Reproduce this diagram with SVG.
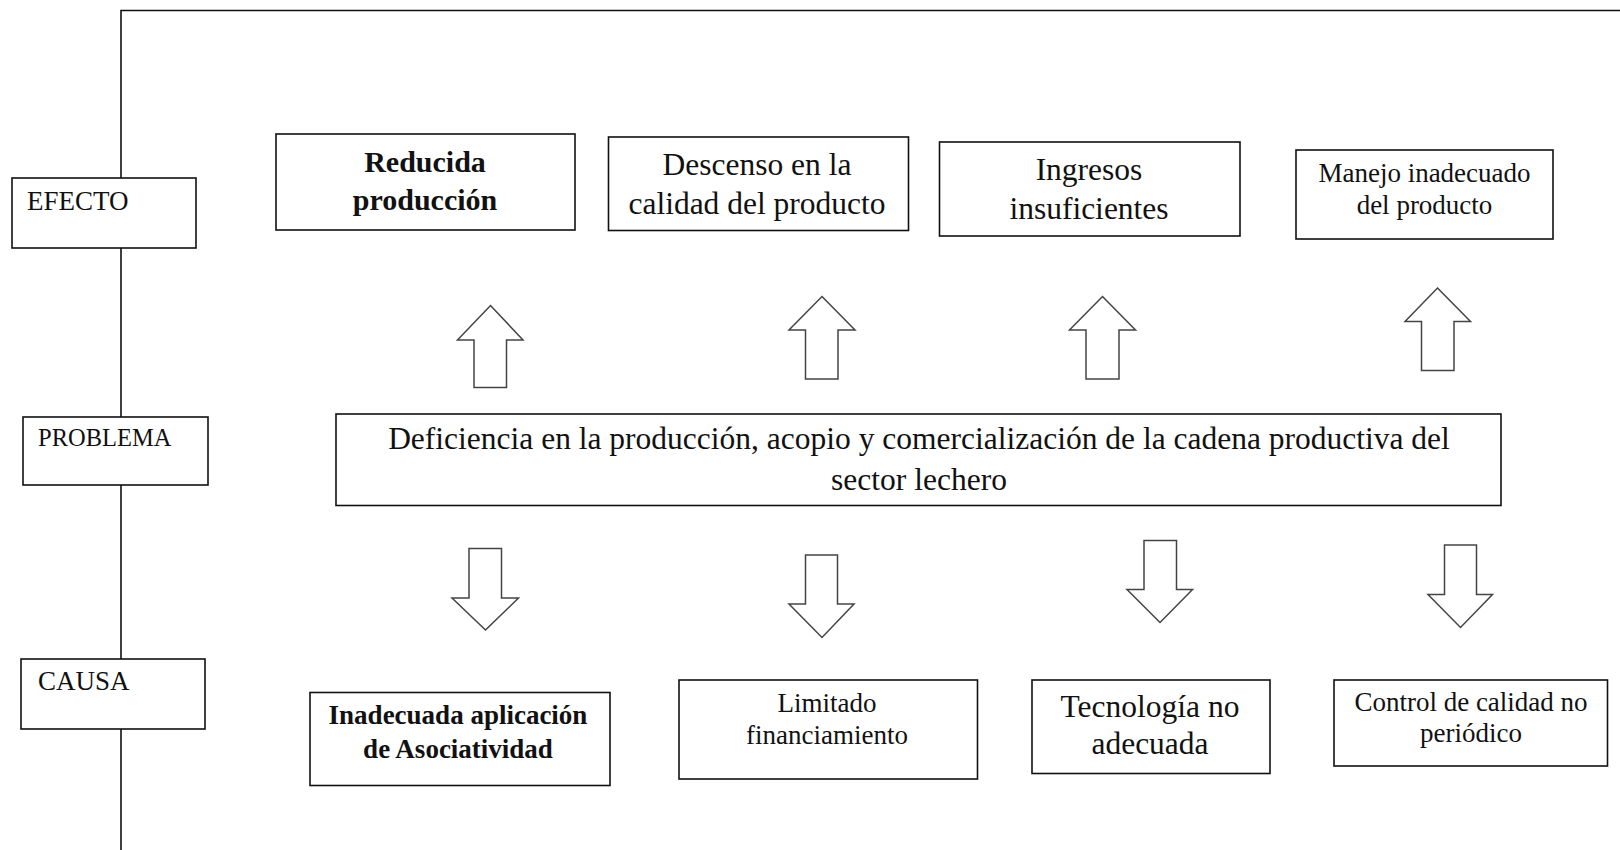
<svg xmlns="http://www.w3.org/2000/svg" width="1620" height="850" viewBox="0 0 1620 850">
<style>
.bx{fill:#fff;stroke:#111;stroke-width:1.6}
.ln{fill:none;stroke:#111;stroke-width:1.6}
.ar{fill:#fff;stroke:#444;stroke-width:1.5;stroke-linejoin:miter}
text{font-family:"Liberation Serif","Times New Roman",serif;fill:#111}
.r{font-size:31.5px;text-anchor:middle}
.s{font-size:27px;text-anchor:middle}
.b{font-size:30px;font-weight:bold;text-anchor:middle}
.bs{font-size:27px;font-weight:bold;text-anchor:middle}
.lab{font-size:27px}
</style>
<rect width="1620" height="850" fill="#fff"/>
<g id="connectors">
<path class="ln" d="M121,850 V10.5 H1620"/>
<path class="ar" d="M490.5,305.5 L523,340 L506.5,340 L506.5,387.5 L474,387.5 L474,340 L457.5,340 Z"/>
<path class="ar" d="M822,296.5 L855,330 L838,330 L838,379 L805.5,379 L805.5,330 L789,330 Z"/>
<path class="ar" d="M1102.5,296.5 L1135.5,330 L1119,330 L1119,379 L1086,379 L1086,330 L1069.5,330 Z"/>
<path class="ar" d="M1437.5,288 L1470.5,321.5 L1454,321.5 L1454,370.5 L1421.5,370.5 L1421.5,321.5 L1405,321.5 Z"/>
<path class="ar" d="M469,548.5 L501.5,548.5 L501.5,598 L518.5,598 L485.5,630 L452,598 L469,598 Z"/>
<path class="ar" d="M805.5,555 L837.5,555 L837.5,604 L854,604 L822,637.5 L789,604 L805.5,604 Z"/>
<path class="ar" d="M1144,540.5 L1176.5,540.5 L1176.5,589.5 L1192.5,589.5 L1160,622.5 L1127,589.5 L1144,589.5 Z"/>
<path class="ar" d="M1444.5,545 L1476.5,545 L1476.5,594.5 L1492.5,594.5 L1460.5,627.5 L1428,594.5 L1444.5,594.5 Z"/>
</g>
<g id="efecto"><rect class="bx" x="12" y="178" width="184" height="70"/><text class="lab" x="27" y="210">EFECTO</text></g>
<g id="problema"><rect class="bx" x="23" y="417" width="185" height="68"/><text x="38" y="446" font-size="24.5">PROBLEMA</text></g>
<g id="causa"><rect class="bx" x="21" y="659" width="184" height="70"/><text class="lab" x="38" y="690">CAUSA</text></g>
<g id="e1"><rect class="bx" x="276" y="134" width="299" height="96"/><text class="b" x="425" y="171.5">Reducida</text><text class="b" x="425" y="210">producción</text></g>
<g id="e2"><rect class="bx" x="608.5" y="137" width="300" height="93.5"/><text class="r" x="757" y="175">Descenso en la</text><text class="r" x="757" y="213.5">calidad del producto</text></g>
<g id="e3"><rect class="bx" x="939.5" y="142" width="300.5" height="94"/><text class="r" x="1089" y="180">Ingresos</text><text class="r" x="1089" y="219">insuficientes</text></g>
<g id="e4"><rect class="bx" x="1296" y="150" width="257" height="89"/><text class="s" x="1424.5" y="181.5">Manejo inadecuado</text><text class="s" x="1424.5" y="213.5">del producto</text></g>
<g id="problem"><rect class="bx" x="336" y="414" width="1165" height="91.5"/><text class="r" x="919" y="448.5">Deficiencia en la producción, acopio y comercialización de la cadena productiva del</text><text class="r" x="919" y="490">sector lechero</text></g>
<g id="c1"><rect class="bx" x="310" y="692.5" width="300" height="93"/><text class="bs" x="458" y="723.5">Inadecuada aplicación</text><text class="bs" x="458" y="757.5">de Asociatividad</text></g>
<g id="c2"><rect class="bx" x="679" y="680" width="298.5" height="99"/><text class="s" x="827" y="711.5">Limitado</text><text class="s" x="827" y="743.5">financiamiento</text></g>
<g id="c3"><rect class="bx" x="1032" y="680" width="238" height="93.5"/><text class="r" x="1150" y="716.5">Tecnología no</text><text class="r" x="1150" y="753.5">adecuada</text></g>
<g id="c4"><rect class="bx" x="1334" y="680" width="273.5" height="86"/><text class="s" x="1471" y="711">Control de calidad no</text><text class="s" x="1471" y="742">periódico</text></g>
</svg>
